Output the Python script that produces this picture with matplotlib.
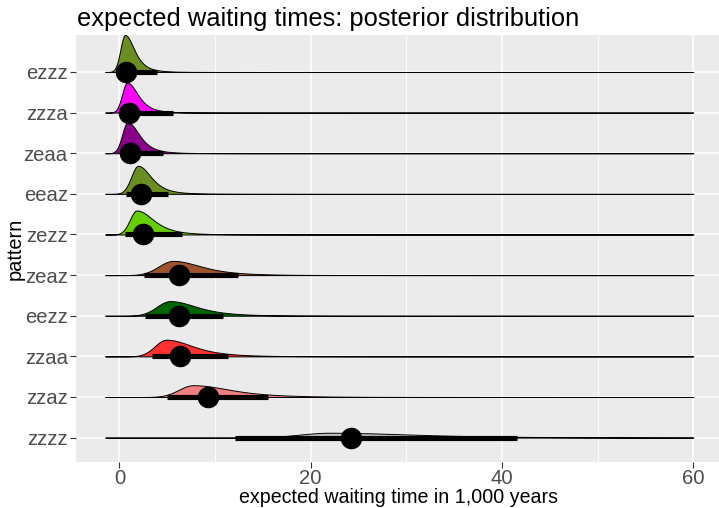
import numpy as np
import matplotlib.pyplot as plt

plt.rcParams['font.family'] = ['Liberation Sans', 'DejaVu Sans']

# rows from bottom to top
patterns = ['zzzz', 'zzaz', 'zzaa', 'eezz', 'zeaz', 'zezz', 'eeaz', 'zeaa', 'zzza', 'ezzz']
fills = ['#BEBEBE', '#F08080', '#FF3030', '#006400', '#A0522D',
         '#66CD00', '#6B8E23', '#8B008B', '#FF00FF', '#6B8E23']

# posterior summaries (median and interval), in 1,000 years
medians = [24.2, 9.3, 6.3, 6.2, 6.2, 2.5, 2.25, 1.1, 1.0, 0.68]
lowers = [12.1, 5.0, 3.45, 2.7, 2.6, 0.6, 0.65, 0.35, 0.3, 0.2]
uppers = [41.6, 15.5, 11.4, 10.8, 12.4, 6.5, 5.1, 4.6, 5.6, 3.9]

# density shape: mode, left spread, right spread, peak height (in row units)
modes = [22.0, 7.7, 4.9, 5.3, 5.6, 1.8, 1.95, 0.85, 0.8, 0.58]
left_sd = [3.2, 1.5, 1.2, 1.4, 1.5, 0.72, 0.72, 0.56, 0.52, 0.48]
right_sd = [9.5, 4.2, 3.0, 3.0, 3.2, 1.9, 1.45, 1.3, 1.2, 1.05]
peaks = [0.12, 0.29, 0.41, 0.36, 0.35, 0.59, 0.69, 0.76, 0.74, 0.91]

x_min, x_max = -1.5, 60.0


def slab(x, m, sl, sr, h, nu=3.0):
    left = np.exp(-0.5 * ((x - m) / sl) ** 2)
    right = (1 + ((x - m) / sr) ** 2 / nu) ** (-(nu + 1) / 2)
    return h * np.where(x < m, left, right)


fig = plt.figure(figsize=(7.19, 5.08), dpi=100)
W, H = 719, 508
ax = fig.add_axes([75.7 / W, 46 / H, 647 / W, 427 / H])
ax.set_facecolor('#EBEBEB')
for s in ax.spines.values():
    s.set_visible(False)

rows = np.arange(1, len(patterns) + 1)

# grid
for v in [10, 30, 50]:
    ax.axvline(v, color='white', lw=0.6, zorder=0)
for v in [0, 20, 40, 60]:
    ax.axvline(v, color='white', lw=1.1, zorder=0)
for r in rows:
    ax.axhline(r, color='white', lw=1.1, zorder=0)

xs = np.linspace(x_min, x_max, 1200)
for i, r in enumerate(rows):
    d = slab(xs, modes[i], left_sd[i], right_sd[i], peaks[i])
    ax.fill_between(xs, r, r + d, facecolor=fills[i], edgecolor='black',
                    lw=0.7, zorder=2)

for i, r in enumerate(rows):
    ax.plot([lowers[i], uppers[i]], [r, r], color='black', lw=3.7,
            solid_capstyle='butt', zorder=3)
    ax.plot(medians[i], r, 'o', color='black', ms=14.5, zorder=4)

ax.set_xlim(-4.575, 63.075)
ax.set_ylim(0.4, 10.91)
ax.set_xticks([0, 20, 40, 60])
ax.set_yticks(rows)
ax.set_yticklabels(patterns)
ax.tick_params(axis='both', labelsize=14.6, labelcolor='#4D4D4D', color='#333333',
               length=4, width=0.8, pad=1.8)
ax.tick_params(axis='x', pad=1.0)

# axis titles and plot title placed in figure pixels
fig.text(398.5 / W, 1 - 503 / H, 'expected waiting time in 1,000 years',
         fontsize=14.1, ha='center', va='baseline')
fig.text(15 / W, 1 - 248.5 / H, 'pattern', fontsize=14.4, rotation=90,
         ha='center', va='center')
fig.text(77 / W, 1 - 26 / H, 'expected waiting times: posterior distribution',
         fontsize=18.4, ha='left', va='baseline')

fig.savefig('out.png', dpi=100)
